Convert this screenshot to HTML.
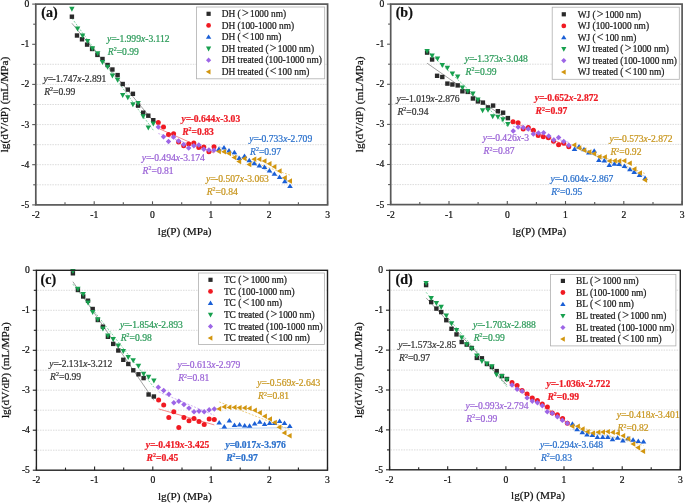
<!DOCTYPE html>
<html><head><meta charset="utf-8"><style>
html,body{margin:0;padding:0;background:#fff;overflow:hidden}
svg{display:block;font-family:"Liberation Serif",serif;will-change:transform}
</style></head><body>
<svg width="685" height="504" viewBox="0 0 685 504">
<rect width="685" height="504" fill="#fff"/>
<line x1="36.8" y1="64.3" x2="326.6" y2="64.3" stroke="#d2d2d2" stroke-width="0.8" stroke-dasharray="1.5,1.1"/>
<line x1="36.8" y1="84.4" x2="326.6" y2="84.4" stroke="#d2d2d2" stroke-width="0.8" stroke-dasharray="1.5,1.1"/>
<line x1="36.8" y1="104.5" x2="326.6" y2="104.5" stroke="#d2d2d2" stroke-width="0.8" stroke-dasharray="1.5,1.1"/>
<line x1="36.8" y1="124.6" x2="326.6" y2="124.6" stroke="#d2d2d2" stroke-width="0.8" stroke-dasharray="1.5,1.1"/>
<line x1="36.8" y1="144.7" x2="326.6" y2="144.7" stroke="#d2d2d2" stroke-width="0.8" stroke-dasharray="1.5,1.1"/>
<line x1="36.8" y1="164.7" x2="326.6" y2="164.7" stroke="#d2d2d2" stroke-width="0.8" stroke-dasharray="1.5,1.1"/>
<line x1="36.8" y1="184.8" x2="326.6" y2="184.8" stroke="#d2d2d2" stroke-width="0.8" stroke-dasharray="1.5,1.1"/>
<line x1="71.9" y1="23.3" x2="153.3" y2="121.1" stroke="#8a8a8a" stroke-width="0.8"/>
<line x1="71.9" y1="18.2" x2="153.3" y2="130.2" stroke="#5cc88a" stroke-width="0.8" stroke-dasharray="2,1.5"/>
<line x1="158.3" y1="128.3" x2="214.0" y2="153.0" stroke="#f47070" stroke-width="0.8"/>
<line x1="158.3" y1="133.5" x2="214.0" y2="152.5" stroke="#c4a0f0" stroke-width="0.8" stroke-dasharray="2,1.5"/>
<line x1="218.9" y1="146.4" x2="290.0" y2="182.2" stroke="#a8c8f0" stroke-width="0.8"/>
<line x1="218.9" y1="150.3" x2="290.0" y2="175.1" stroke="#e8c060" stroke-width="0.8" stroke-dasharray="2,1.5"/>
<rect x="69.7" y="14.5" width="4.4" height="4.4" fill="#2a2a2a"/>
<rect x="74.8" y="33.3" width="4.4" height="4.4" fill="#2a2a2a"/>
<rect x="79.8" y="37.1" width="4.4" height="4.4" fill="#2a2a2a"/>
<rect x="84.9" y="42.4" width="4.4" height="4.4" fill="#2a2a2a"/>
<rect x="89.9" y="46.8" width="4.4" height="4.4" fill="#2a2a2a"/>
<rect x="95.2" y="52.7" width="4.4" height="4.4" fill="#2a2a2a"/>
<rect x="100.3" y="56.8" width="4.4" height="4.4" fill="#2a2a2a"/>
<rect x="105.4" y="62.8" width="4.4" height="4.4" fill="#2a2a2a"/>
<rect x="110.2" y="67.3" width="4.4" height="4.4" fill="#2a2a2a"/>
<rect x="115.4" y="72.9" width="4.4" height="4.4" fill="#2a2a2a"/>
<rect x="120.5" y="81.8" width="4.4" height="4.4" fill="#2a2a2a"/>
<rect x="125.6" y="87.4" width="4.4" height="4.4" fill="#2a2a2a"/>
<rect x="130.7" y="91.6" width="4.4" height="4.4" fill="#2a2a2a"/>
<rect x="135.9" y="103.4" width="4.4" height="4.4" fill="#2a2a2a"/>
<rect x="141.0" y="110.5" width="4.4" height="4.4" fill="#2a2a2a"/>
<rect x="146.1" y="113.5" width="4.4" height="4.4" fill="#2a2a2a"/>
<rect x="151.1" y="118.0" width="4.4" height="4.4" fill="#2a2a2a"/>
<circle cx="158.3" cy="122.5" r="2.50" fill="#f01a22"/>
<circle cx="163.5" cy="126.9" r="2.50" fill="#f01a22"/>
<circle cx="168.5" cy="134.6" r="2.50" fill="#f01a22"/>
<circle cx="173.6" cy="133.8" r="2.50" fill="#f01a22"/>
<circle cx="178.6" cy="142.1" r="2.50" fill="#f01a22"/>
<circle cx="183.7" cy="145.7" r="2.50" fill="#f01a22"/>
<circle cx="188.7" cy="143.9" r="2.50" fill="#f01a22"/>
<circle cx="193.8" cy="143.1" r="2.50" fill="#f01a22"/>
<circle cx="198.8" cy="147.5" r="2.50" fill="#f01a22"/>
<circle cx="203.8" cy="146.9" r="2.50" fill="#f01a22"/>
<circle cx="208.9" cy="151.7" r="2.50" fill="#f01a22"/>
<circle cx="214.0" cy="146.7" r="2.50" fill="#f01a22"/>
<path d="M218.9,146.4L221.7,150.9L216.1,150.9Z" fill="#1a5fd6"/>
<path d="M224.0,145.0L226.8,149.5L221.2,149.5Z" fill="#1a5fd6"/>
<path d="M229.0,147.9L231.8,152.4L226.2,152.4Z" fill="#1a5fd6"/>
<path d="M234.4,149.8L237.2,154.3L231.6,154.3Z" fill="#1a5fd6"/>
<path d="M239.2,155.4L242.0,159.9L236.4,159.9Z" fill="#1a5fd6"/>
<path d="M244.5,153.6L247.3,158.1L241.7,158.1Z" fill="#1a5fd6"/>
<path d="M249.3,157.8L252.1,162.3L246.5,162.3Z" fill="#1a5fd6"/>
<path d="M254.3,160.7L257.1,165.2L251.5,165.2Z" fill="#1a5fd6"/>
<path d="M259.4,163.1L262.2,167.6L256.6,167.6Z" fill="#1a5fd6"/>
<path d="M264.5,164.4L267.3,168.9L261.7,168.9Z" fill="#1a5fd6"/>
<path d="M269.5,167.9L272.3,172.4L266.7,172.4Z" fill="#1a5fd6"/>
<path d="M274.4,171.3L277.2,175.8L271.6,175.8Z" fill="#1a5fd6"/>
<path d="M279.6,174.5L282.4,179.0L276.8,179.0Z" fill="#1a5fd6"/>
<path d="M284.8,178.7L287.6,183.2L282.0,183.2Z" fill="#1a5fd6"/>
<path d="M290.0,183.6L292.8,188.1L287.2,188.1Z" fill="#1a5fd6"/>
<path d="M71.9,11.8L74.6,6.8L69.2,6.8Z" fill="#17a04e"/>
<path d="M77.6,31.5L80.3,26.5L74.9,26.5Z" fill="#17a04e"/>
<path d="M82.6,38.6L85.3,33.6L79.9,33.6Z" fill="#17a04e"/>
<path d="M87.6,43.9L90.3,38.9L84.9,38.9Z" fill="#17a04e"/>
<path d="M92.4,51.2L95.1,46.2L89.7,46.2Z" fill="#17a04e"/>
<path d="M97.7,56.2L100.4,51.2L95.0,51.2Z" fill="#17a04e"/>
<path d="M102.5,64.9L105.2,59.9L99.8,59.9Z" fill="#17a04e"/>
<path d="M107.6,69.7L110.3,64.7L104.9,64.7Z" fill="#17a04e"/>
<path d="M112.4,78.6L115.1,73.6L109.7,73.6Z" fill="#17a04e"/>
<path d="M117.6,82.8L120.3,77.8L114.9,77.8Z" fill="#17a04e"/>
<path d="M122.7,97.9L125.4,92.9L120.0,92.9Z" fill="#17a04e"/>
<path d="M127.8,100.2L130.5,95.2L125.1,95.2Z" fill="#17a04e"/>
<path d="M132.9,107.3L135.6,102.3L130.2,102.3Z" fill="#17a04e"/>
<path d="M138.1,106.1L140.8,101.1L135.4,101.1Z" fill="#17a04e"/>
<path d="M143.2,119.2L145.9,114.2L140.5,114.2Z" fill="#17a04e"/>
<path d="M148.3,130.5L151.0,125.5L145.6,125.5Z" fill="#17a04e"/>
<path d="M153.3,126.4L156.0,121.4L150.6,121.4Z" fill="#17a04e"/>
<path d="M158.3,124.2L161.1,126.9L158.3,129.7L155.6,126.9Z" fill="#9d66e6"/>
<path d="M163.5,134.1L166.2,136.8L163.5,139.6L160.8,136.8Z" fill="#9d66e6"/>
<path d="M168.5,138.8L171.2,141.5L168.5,144.2L165.8,141.5Z" fill="#9d66e6"/>
<path d="M173.6,134.3L176.3,137.1L173.6,139.8L170.8,137.1Z" fill="#9d66e6"/>
<path d="M178.6,138.2L181.3,141.0L178.6,143.8L175.8,141.0Z" fill="#9d66e6"/>
<path d="M183.7,141.8L186.4,144.5L183.7,147.2L180.9,144.5Z" fill="#9d66e6"/>
<path d="M188.7,145.3L191.4,148.1L188.7,150.8L185.9,148.1Z" fill="#9d66e6"/>
<path d="M193.8,142.9L196.6,145.7L193.8,148.4L191.1,145.7Z" fill="#9d66e6"/>
<path d="M198.8,142.3L201.6,145.1L198.8,147.8L196.1,145.1Z" fill="#9d66e6"/>
<path d="M203.8,146.6L206.6,149.3L203.8,152.1L201.1,149.3Z" fill="#9d66e6"/>
<path d="M208.9,147.2L211.7,149.9L208.9,152.7L206.2,149.9Z" fill="#9d66e6"/>
<path d="M214.0,147.4L216.8,150.2L214.0,152.9L211.2,150.2Z" fill="#9d66e6"/>
<path d="M216.0,151.4L220.9,148.7L220.9,154.2Z" fill="#d2960f"/>
<path d="M221.1,151.8L226.0,149.1L226.0,154.6Z" fill="#d2960f"/>
<path d="M226.1,153.6L231.0,150.8L231.0,156.3Z" fill="#d2960f"/>
<path d="M231.5,157.4L236.4,154.7L236.4,160.2Z" fill="#d2960f"/>
<path d="M236.3,161.5L241.2,158.8L241.2,164.2Z" fill="#d2960f"/>
<path d="M241.6,158.6L246.5,155.8L246.5,161.3Z" fill="#d2960f"/>
<path d="M246.4,164.5L251.3,161.8L251.3,167.2Z" fill="#d2960f"/>
<path d="M251.4,159.2L256.3,156.4L256.3,161.9Z" fill="#d2960f"/>
<path d="M256.5,159.2L261.4,156.4L261.4,161.9Z" fill="#d2960f"/>
<path d="M261.6,160.9L266.5,158.2L266.5,163.7Z" fill="#d2960f"/>
<path d="M266.6,163.7L271.5,160.9L271.5,166.4Z" fill="#d2960f"/>
<path d="M271.5,166.7L276.4,163.9L276.4,169.4Z" fill="#d2960f"/>
<path d="M276.7,171.1L281.6,168.3L281.6,173.8Z" fill="#d2960f"/>
<path d="M281.9,177.7L286.8,174.9L286.8,180.4Z" fill="#d2960f"/>
<path d="M287.1,181.1L292.0,178.3L292.0,183.8Z" fill="#d2960f"/>
<text x="107" y="41.699999999999996" fill="#2a9a58" stroke="#2a9a58" stroke-width="0.22" font-size="9.6"><tspan font-style="italic">y</tspan>=<tspan dx="-0.5">-1.999</tspan><tspan font-style="italic">x</tspan>-3.112</text><text x="107.8" y="54.7" fill="#2a9a58" stroke="#2a9a58" stroke-width="0.22" font-size="9.6"><tspan font-style="italic">R</tspan><tspan font-size="6" dy="-3.6">2</tspan><tspan dy="3.6">=0.99</tspan></text>
<text x="43.4" y="81.7" fill="#333333" stroke="#333333" stroke-width="0.22" font-size="9.6"><tspan font-style="italic">y</tspan>=<tspan dx="-0.5">-1.747</tspan><tspan font-style="italic">x</tspan>-2.891</text><text x="44.199999999999996" y="94.7" fill="#333333" stroke="#333333" stroke-width="0.22" font-size="9.6"><tspan font-style="italic">R</tspan><tspan font-size="6" dy="-3.6">2</tspan><tspan dy="3.6">=0.99</tspan></text>
<text x="181.4" y="122.0" fill="#ee1c25" stroke="#ee1c25" stroke-width="0.22" font-size="9.6" font-weight="bold"><tspan font-style="italic">y</tspan>=<tspan dx="-0.5">-0.644</tspan><tspan font-style="italic">x</tspan>-3.03</text><text x="182.20000000000002" y="135.0" fill="#ee1c25" stroke="#ee1c25" stroke-width="0.22" font-size="9.6" font-weight="bold"><tspan font-style="italic">R</tspan><tspan font-size="6" dy="-3.6">2</tspan><tspan dy="3.6">=0.83</tspan></text>
<text x="249.2" y="141.8" fill="#2a70cc" stroke="#2a70cc" stroke-width="0.22" font-size="9.6"><tspan font-style="italic">y</tspan>=<tspan dx="-0.5">-0.733</tspan><tspan font-style="italic">x</tspan>-2.709</text><text x="250.0" y="154.8" fill="#2a70cc" stroke="#2a70cc" stroke-width="0.22" font-size="9.6"><tspan font-style="italic">R</tspan><tspan font-size="6" dy="-3.6">2</tspan><tspan dy="3.6">=0.97</tspan></text>
<text x="141.8" y="161.0" fill="#9a62d6" stroke="#9a62d6" stroke-width="0.22" font-size="9.6"><tspan font-style="italic">y</tspan>=<tspan dx="-0.5">-0.494</tspan><tspan font-style="italic">x</tspan>-3.174</text><text x="142.60000000000002" y="174.0" fill="#9a62d6" stroke="#9a62d6" stroke-width="0.22" font-size="9.6"><tspan font-style="italic">R</tspan><tspan font-size="6" dy="-3.6">2</tspan><tspan dy="3.6">=0.81</tspan></text>
<text x="205.9" y="181.70000000000002" fill="#c8961e" stroke="#c8961e" stroke-width="0.22" font-size="9.6"><tspan font-style="italic">y</tspan>=<tspan dx="-0.5">-0.507</tspan><tspan font-style="italic">x</tspan>-3.063</text><text x="206.70000000000002" y="194.7" fill="#c8961e" stroke="#c8961e" stroke-width="0.22" font-size="9.6"><tspan font-style="italic">R</tspan><tspan font-size="6" dy="-3.6">2</tspan><tspan dy="3.6">=0.84</tspan></text>
<rect x="196.5" y="7.0" width="128.2" height="71.8" fill="#fff" stroke="#b0b0b0" stroke-width="0.8"/>
<rect x="206.5" y="11.7" width="4.2" height="4.2" fill="#2a2a2a"/>
<text x="221.7" y="17.0" font-size="9.4" fill="#1a1a1a" stroke="#1a1a1a" stroke-width="0.22">DH (<tspan font-size="12" dx="1.2">&gt;</tspan><tspan dx="1.3">1000 nm)</tspan></text>
<circle cx="208.6" cy="25.4" r="2.38" fill="#f01a22"/>
<text x="221.7" y="28.6" font-size="9.4" fill="#1a1a1a" stroke="#1a1a1a" stroke-width="0.22">DH (100-1000 nm)</text>
<path d="M208.6,34.5L211.3,38.8L205.9,38.8Z" fill="#1a5fd6"/>
<text x="221.7" y="40.2" font-size="9.4" fill="#1a1a1a" stroke="#1a1a1a" stroke-width="0.22">DH (<tspan font-size="12" dx="1.2">&lt;</tspan><tspan dx="1.3">100 nm)</tspan></text>
<path d="M208.6,51.4L211.2,46.6L206.0,46.6Z" fill="#17a04e"/>
<text x="221.7" y="51.8" font-size="9.4" fill="#1a1a1a" stroke="#1a1a1a" stroke-width="0.22">DH treated (<tspan font-size="12" dx="1.2">&gt;</tspan><tspan dx="1.3">1000 nm)</tspan></text>
<path d="M208.6,57.6L211.2,60.2L208.6,62.8L206.0,60.2Z" fill="#9d66e6"/>
<text x="221.7" y="63.4" font-size="9.4" fill="#1a1a1a" stroke="#1a1a1a" stroke-width="0.22">DH treated (100-1000 nm)</text>
<path d="M205.8,71.8L210.5,69.2L210.5,74.4Z" fill="#d2960f"/>
<text x="221.7" y="75.0" font-size="9.4" fill="#1a1a1a" stroke="#1a1a1a" stroke-width="0.22">DH treated (<tspan font-size="12" dx="1.2">&lt;</tspan><tspan dx="1.3">100 nm)</tspan></text>
<rect x="35.8" y="4.1" width="291.8" height="200.8" fill="none" stroke="#585858" stroke-width="1.7"/>
<line x1="35.8" y1="204.9" x2="35.8" y2="201.3" stroke="#585858" stroke-width="1.1"/>
<line x1="35.8" y1="4.1" x2="32.199999999999996" y2="4.1" stroke="#585858" stroke-width="1.1"/>
<line x1="65.0" y1="204.9" x2="65.0" y2="202.3" stroke="#585858" stroke-width="1.1"/>
<line x1="35.8" y1="24.2" x2="33.199999999999996" y2="24.2" stroke="#585858" stroke-width="1.1"/>
<line x1="94.2" y1="204.9" x2="94.2" y2="201.3" stroke="#585858" stroke-width="1.1"/>
<line x1="35.8" y1="44.3" x2="32.199999999999996" y2="44.3" stroke="#585858" stroke-width="1.1"/>
<line x1="123.3" y1="204.9" x2="123.3" y2="202.3" stroke="#585858" stroke-width="1.1"/>
<line x1="35.8" y1="64.3" x2="33.199999999999996" y2="64.3" stroke="#585858" stroke-width="1.1"/>
<line x1="152.5" y1="204.9" x2="152.5" y2="201.3" stroke="#585858" stroke-width="1.1"/>
<line x1="35.8" y1="84.4" x2="32.199999999999996" y2="84.4" stroke="#585858" stroke-width="1.1"/>
<line x1="181.7" y1="204.9" x2="181.7" y2="202.3" stroke="#585858" stroke-width="1.1"/>
<line x1="35.8" y1="104.5" x2="33.199999999999996" y2="104.5" stroke="#585858" stroke-width="1.1"/>
<line x1="210.9" y1="204.9" x2="210.9" y2="201.3" stroke="#585858" stroke-width="1.1"/>
<line x1="35.8" y1="124.6" x2="32.199999999999996" y2="124.6" stroke="#585858" stroke-width="1.1"/>
<line x1="240.1" y1="204.9" x2="240.1" y2="202.3" stroke="#585858" stroke-width="1.1"/>
<line x1="35.8" y1="144.7" x2="33.199999999999996" y2="144.7" stroke="#585858" stroke-width="1.1"/>
<line x1="269.2" y1="204.9" x2="269.2" y2="201.3" stroke="#585858" stroke-width="1.1"/>
<line x1="35.8" y1="164.7" x2="32.199999999999996" y2="164.7" stroke="#585858" stroke-width="1.1"/>
<line x1="298.4" y1="204.9" x2="298.4" y2="202.3" stroke="#585858" stroke-width="1.1"/>
<line x1="35.8" y1="184.8" x2="33.199999999999996" y2="184.8" stroke="#585858" stroke-width="1.1"/>
<line x1="327.6" y1="204.9" x2="327.6" y2="201.3" stroke="#585858" stroke-width="1.1"/>
<line x1="35.8" y1="204.9" x2="32.199999999999996" y2="204.9" stroke="#585858" stroke-width="1.1"/>
<text x="35.8" y="217.9" font-size="9.6" text-anchor="middle" fill="#111" stroke="#111" stroke-width="0.22">-2</text>
<text x="29.3" y="7.0" font-size="9.6" text-anchor="end" fill="#111" stroke="#111" stroke-width="0.22">0</text>
<text x="94.2" y="217.9" font-size="9.6" text-anchor="middle" fill="#111" stroke="#111" stroke-width="0.22">-1</text>
<text x="29.3" y="47.2" font-size="9.6" text-anchor="end" fill="#111" stroke="#111" stroke-width="0.22">-1</text>
<text x="152.5" y="217.9" font-size="9.6" text-anchor="middle" fill="#111" stroke="#111" stroke-width="0.22">0</text>
<text x="29.3" y="87.3" font-size="9.6" text-anchor="end" fill="#111" stroke="#111" stroke-width="0.22">-2</text>
<text x="210.9" y="217.9" font-size="9.6" text-anchor="middle" fill="#111" stroke="#111" stroke-width="0.22">1</text>
<text x="29.3" y="127.5" font-size="9.6" text-anchor="end" fill="#111" stroke="#111" stroke-width="0.22">-3</text>
<text x="269.2" y="217.9" font-size="9.6" text-anchor="middle" fill="#111" stroke="#111" stroke-width="0.22">2</text>
<text x="29.3" y="167.6" font-size="9.6" text-anchor="end" fill="#111" stroke="#111" stroke-width="0.22">-4</text>
<text x="327.6" y="217.9" font-size="9.6" text-anchor="middle" fill="#111" stroke="#111" stroke-width="0.22">3</text>
<text x="29.3" y="207.8" font-size="9.6" text-anchor="end" fill="#111" stroke="#111" stroke-width="0.22">-5</text>
<text x="184.7" y="235.4" font-size="11.2" text-anchor="middle" fill="#111" stroke="#111" stroke-width="0.22">lg(P) (MPa)</text>
<text transform="translate(8.3,104.5) rotate(-90)" x="0" y="0" font-size="11.3" text-anchor="middle" fill="#111" stroke="#111" stroke-width="0.22">lg(dV/dP) (mL/MPa)</text>
<text x="41.3" y="16.9" font-size="14" font-weight="bold" fill="#111" stroke="#111" stroke-width="0.22">(a)</text>
<line x1="391.7" y1="64.2" x2="681.1" y2="64.2" stroke="#d2d2d2" stroke-width="0.8" stroke-dasharray="1.5,1.1"/>
<line x1="391.7" y1="84.3" x2="681.1" y2="84.3" stroke="#d2d2d2" stroke-width="0.8" stroke-dasharray="1.5,1.1"/>
<line x1="391.7" y1="104.3" x2="681.1" y2="104.3" stroke="#d2d2d2" stroke-width="0.8" stroke-dasharray="1.5,1.1"/>
<line x1="391.7" y1="124.4" x2="681.1" y2="124.4" stroke="#d2d2d2" stroke-width="0.8" stroke-dasharray="1.5,1.1"/>
<line x1="391.7" y1="144.4" x2="681.1" y2="144.4" stroke="#d2d2d2" stroke-width="0.8" stroke-dasharray="1.5,1.1"/>
<line x1="391.7" y1="164.5" x2="681.1" y2="164.5" stroke="#d2d2d2" stroke-width="0.8" stroke-dasharray="1.5,1.1"/>
<line x1="391.7" y1="184.6" x2="681.1" y2="184.6" stroke="#d2d2d2" stroke-width="0.8" stroke-dasharray="1.5,1.1"/>
<line x1="427.1" y1="63.2" x2="507.9" y2="119.9" stroke="#8a8a8a" stroke-width="0.8"/>
<line x1="427.1" y1="50.6" x2="507.9" y2="126.9" stroke="#5cc88a" stroke-width="0.8" stroke-dasharray="2,1.5"/>
<line x1="513.0" y1="121.8" x2="568.8" y2="146.9" stroke="#f47070" stroke-width="0.8"/>
<line x1="513.0" y1="126.1" x2="568.8" y2="142.4" stroke="#c4a0f0" stroke-width="0.8" stroke-dasharray="2,1.5"/>
<line x1="574.5" y1="147.0" x2="645.1" y2="176.4" stroke="#a8c8f0" stroke-width="0.8"/>
<line x1="574.5" y1="145.8" x2="645.1" y2="173.6" stroke="#e8c060" stroke-width="0.8" stroke-dasharray="2,1.5"/>
<rect x="424.9" y="50.4" width="4.4" height="4.4" fill="#2a2a2a"/>
<rect x="429.9" y="57.3" width="4.4" height="4.4" fill="#2a2a2a"/>
<rect x="434.9" y="73.6" width="4.4" height="4.4" fill="#2a2a2a"/>
<rect x="440.1" y="74.8" width="4.4" height="4.4" fill="#2a2a2a"/>
<rect x="445.2" y="81.4" width="4.4" height="4.4" fill="#2a2a2a"/>
<rect x="450.2" y="82.3" width="4.4" height="4.4" fill="#2a2a2a"/>
<rect x="455.5" y="83.2" width="4.4" height="4.4" fill="#2a2a2a"/>
<rect x="460.2" y="89.1" width="4.4" height="4.4" fill="#2a2a2a"/>
<rect x="465.5" y="89.7" width="4.4" height="4.4" fill="#2a2a2a"/>
<rect x="470.7" y="96.3" width="4.4" height="4.4" fill="#2a2a2a"/>
<rect x="475.7" y="99.2" width="4.4" height="4.4" fill="#2a2a2a"/>
<rect x="480.7" y="100.4" width="4.4" height="4.4" fill="#2a2a2a"/>
<rect x="485.8" y="105.2" width="4.4" height="4.4" fill="#2a2a2a"/>
<rect x="490.9" y="103.4" width="4.4" height="4.4" fill="#2a2a2a"/>
<rect x="495.7" y="109.0" width="4.4" height="4.4" fill="#2a2a2a"/>
<rect x="500.9" y="110.5" width="4.4" height="4.4" fill="#2a2a2a"/>
<rect x="505.7" y="115.9" width="4.4" height="4.4" fill="#2a2a2a"/>
<circle cx="513.0" cy="121.7" r="2.50" fill="#f01a22"/>
<circle cx="518.1" cy="122.8" r="2.50" fill="#f01a22"/>
<circle cx="523.2" cy="128.9" r="2.50" fill="#f01a22"/>
<circle cx="528.3" cy="127.4" r="2.50" fill="#f01a22"/>
<circle cx="533.4" cy="130.2" r="2.50" fill="#f01a22"/>
<circle cx="538.2" cy="135.5" r="2.50" fill="#f01a22"/>
<circle cx="543.3" cy="136.8" r="2.50" fill="#f01a22"/>
<circle cx="548.4" cy="137.8" r="2.50" fill="#f01a22"/>
<circle cx="553.5" cy="141.2" r="2.50" fill="#f01a22"/>
<circle cx="558.6" cy="144.7" r="2.50" fill="#f01a22"/>
<circle cx="563.7" cy="143.2" r="2.50" fill="#f01a22"/>
<circle cx="568.8" cy="146.8" r="2.50" fill="#f01a22"/>
<path d="M574.5,146.4L577.3,150.9L571.7,150.9Z" fill="#1a5fd6"/>
<path d="M579.0,144.1L581.8,148.6L576.2,148.6Z" fill="#1a5fd6"/>
<path d="M584.0,146.7L586.8,151.2L581.2,151.2Z" fill="#1a5fd6"/>
<path d="M588.8,150.0L591.6,154.5L586.0,154.5Z" fill="#1a5fd6"/>
<path d="M594.2,148.2L597.0,152.7L591.4,152.7Z" fill="#1a5fd6"/>
<path d="M598.9,157.4L601.7,161.9L596.1,161.9Z" fill="#1a5fd6"/>
<path d="M604.3,158.1L607.1,162.6L601.5,162.6Z" fill="#1a5fd6"/>
<path d="M609.3,162.5L612.1,167.0L606.5,167.0Z" fill="#1a5fd6"/>
<path d="M614.4,161.3L617.2,165.8L611.6,165.8Z" fill="#1a5fd6"/>
<path d="M619.2,161.5L622.0,166.0L616.4,166.0Z" fill="#1a5fd6"/>
<path d="M624.5,163.4L627.3,167.9L621.7,167.9Z" fill="#1a5fd6"/>
<path d="M629.9,166.7L632.7,171.2L627.1,171.2Z" fill="#1a5fd6"/>
<path d="M634.2,169.5L637.0,174.0L631.4,174.0Z" fill="#1a5fd6"/>
<path d="M639.5,172.4L642.3,176.9L636.7,176.9Z" fill="#1a5fd6"/>
<path d="M645.1,175.5L647.9,180.0L642.3,180.0Z" fill="#1a5fd6"/>
<path d="M427.1,54.1L429.8,49.1L424.4,49.1Z" fill="#17a04e"/>
<path d="M432.1,58.5L434.8,53.5L429.4,53.5Z" fill="#17a04e"/>
<path d="M437.5,61.5L440.2,56.5L434.8,56.5Z" fill="#17a04e"/>
<path d="M442.3,68.0L445.0,63.0L439.6,63.0Z" fill="#17a04e"/>
<path d="M447.4,70.8L450.1,65.8L444.7,65.8Z" fill="#17a04e"/>
<path d="M452.4,76.4L455.1,71.4L449.7,71.4Z" fill="#17a04e"/>
<path d="M457.7,79.6L460.4,74.6L455.0,74.6Z" fill="#17a04e"/>
<path d="M462.4,90.6L465.1,85.6L459.7,85.6Z" fill="#17a04e"/>
<path d="M467.7,93.9L470.4,88.9L465.0,88.9Z" fill="#17a04e"/>
<path d="M472.9,96.6L475.6,91.6L470.2,91.6Z" fill="#17a04e"/>
<path d="M477.9,102.5L480.6,97.5L475.2,97.5Z" fill="#17a04e"/>
<path d="M482.6,113.3L485.3,108.3L479.9,108.3Z" fill="#17a04e"/>
<path d="M488.0,112.7L490.7,107.7L485.3,107.7Z" fill="#17a04e"/>
<path d="M492.7,119.2L495.4,114.2L490.0,114.2Z" fill="#17a04e"/>
<path d="M497.9,119.8L500.6,114.8L495.2,114.8Z" fill="#17a04e"/>
<path d="M502.9,122.2L505.6,117.2L500.2,117.2Z" fill="#17a04e"/>
<path d="M507.9,126.9L510.6,121.9L505.2,121.9Z" fill="#17a04e"/>
<path d="M513.2,128.2L516.0,130.9L513.2,133.7L510.5,130.9Z" fill="#9d66e6"/>
<path d="M518.1,124.2L520.9,126.9L518.1,129.7L515.4,126.9Z" fill="#9d66e6"/>
<path d="M523.2,124.7L526.0,127.4L523.2,130.2L520.5,127.4Z" fill="#9d66e6"/>
<path d="M528.3,126.2L531.0,128.9L528.3,131.7L525.5,128.9Z" fill="#9d66e6"/>
<path d="M533.4,131.2L536.1,134.0L533.4,136.8L530.6,134.0Z" fill="#9d66e6"/>
<path d="M538.5,130.2L541.2,133.0L538.5,135.8L535.8,133.0Z" fill="#9d66e6"/>
<path d="M543.6,129.9L546.4,132.7L543.6,135.4L540.9,132.7Z" fill="#9d66e6"/>
<path d="M548.7,133.2L551.5,136.0L548.7,138.8L546.0,136.0Z" fill="#9d66e6"/>
<path d="M553.8,137.3L556.5,140.1L553.8,142.8L551.0,140.1Z" fill="#9d66e6"/>
<path d="M558.6,134.8L561.4,137.6L558.6,140.3L555.9,137.6Z" fill="#9d66e6"/>
<path d="M563.7,138.8L566.5,141.5L563.7,144.2L561.0,141.5Z" fill="#9d66e6"/>
<path d="M568.8,142.4L571.5,145.2L568.8,147.9L566.0,145.2Z" fill="#9d66e6"/>
<path d="M571.4,144.9L576.3,142.2L576.3,147.7Z" fill="#d2960f"/>
<path d="M576.4,147.9L581.3,145.2L581.3,150.7Z" fill="#d2960f"/>
<path d="M581.4,150.2L586.3,147.4L586.3,152.9Z" fill="#d2960f"/>
<path d="M586.5,152.0L591.4,149.2L591.4,154.8Z" fill="#d2960f"/>
<path d="M591.3,153.8L596.2,151.1L596.2,156.6Z" fill="#d2960f"/>
<path d="M596.6,156.8L601.5,154.1L601.5,159.6Z" fill="#d2960f"/>
<path d="M602.0,157.1L606.9,154.3L606.9,159.8Z" fill="#d2960f"/>
<path d="M606.7,161.0L611.6,158.2L611.6,163.8Z" fill="#d2960f"/>
<path d="M611.9,160.7L616.8,157.9L616.8,163.4Z" fill="#d2960f"/>
<path d="M616.4,161.0L621.3,158.2L621.3,163.8Z" fill="#d2960f"/>
<path d="M621.5,160.7L626.4,157.9L626.4,163.4Z" fill="#d2960f"/>
<path d="M626.9,163.2L631.8,160.4L631.8,165.9Z" fill="#d2960f"/>
<path d="M631.6,169.1L636.5,166.3L636.5,171.8Z" fill="#d2960f"/>
<path d="M637.1,173.0L642.0,170.2L642.0,175.8Z" fill="#d2960f"/>
<path d="M642.2,180.1L647.1,177.3L647.1,182.8Z" fill="#d2960f"/>
<text x="464.8" y="61.9" fill="#2a9a58" stroke="#2a9a58" stroke-width="0.22" font-size="9.6"><tspan font-style="italic">y</tspan>=<tspan dx="-0.5">-1.373</tspan><tspan font-style="italic">x</tspan>-3.048</text><text x="465.6" y="74.9" fill="#2a9a58" stroke="#2a9a58" stroke-width="0.22" font-size="9.6"><tspan font-style="italic">R</tspan><tspan font-size="6" dy="-3.6">2</tspan><tspan dy="3.6">=0.99</tspan></text>
<text x="396.6" y="101.80000000000001" fill="#333333" stroke="#333333" stroke-width="0.22" font-size="9.6"><tspan font-style="italic">y</tspan>=<tspan dx="-0.5">-1.019</tspan><tspan font-style="italic">x</tspan>-2.876</text><text x="397.40000000000003" y="114.8" fill="#333333" stroke="#333333" stroke-width="0.22" font-size="9.6"><tspan font-style="italic">R</tspan><tspan font-size="6" dy="-3.6">2</tspan><tspan dy="3.6">=0.94</tspan></text>
<text x="534.8" y="101.30000000000001" fill="#ee1c25" stroke="#ee1c25" stroke-width="0.22" font-size="9.6" font-weight="bold"><tspan font-style="italic">y</tspan>=<tspan dx="-0.5">-0.652</tspan><tspan font-style="italic">x</tspan>-2.872</text><text x="535.5999999999999" y="114.3" fill="#ee1c25" stroke="#ee1c25" stroke-width="0.22" font-size="9.6" font-weight="bold"><tspan font-style="italic">R</tspan><tspan font-size="6" dy="-3.6">2</tspan><tspan dy="3.6">=0.97</tspan></text>
<text x="482.8" y="141.3" fill="#9a62d6" stroke="#9a62d6" stroke-width="0.22" font-size="9.6"><tspan font-style="italic">y</tspan>=<tspan dx="-0.5">-0.426</tspan><tspan font-style="italic">x</tspan>-3</text><text x="483.6" y="154.3" fill="#9a62d6" stroke="#9a62d6" stroke-width="0.22" font-size="9.6"><tspan font-style="italic">R</tspan><tspan font-size="6" dy="-3.6">2</tspan><tspan dy="3.6">=0.87</tspan></text>
<text x="609.6" y="142.20000000000002" fill="#c8961e" stroke="#c8961e" stroke-width="0.22" font-size="9.6"><tspan font-style="italic">y</tspan>=<tspan dx="-0.5">-0.573</tspan><tspan font-style="italic">x</tspan>-2.872</text><text x="610.4" y="155.2" fill="#c8961e" stroke="#c8961e" stroke-width="0.22" font-size="9.6"><tspan font-style="italic">R</tspan><tspan font-size="6" dy="-3.6">2</tspan><tspan dy="3.6">=0.92</tspan></text>
<text x="550.4" y="182.20000000000002" fill="#2a70cc" stroke="#2a70cc" stroke-width="0.22" font-size="9.6"><tspan font-style="italic">y</tspan>=<tspan dx="-0.5">-0.604</tspan><tspan font-style="italic">x</tspan>-2.867</text><text x="551.1999999999999" y="195.2" fill="#2a70cc" stroke="#2a70cc" stroke-width="0.22" font-size="9.6"><tspan font-style="italic">R</tspan><tspan font-size="6" dy="-3.6">2</tspan><tspan dy="3.6">=0.95</tspan></text>
<rect x="552.2" y="7.2" width="127.1" height="72.1" fill="#fff" stroke="#b0b0b0" stroke-width="0.8"/>
<rect x="561.7" y="12.2" width="4.2" height="4.2" fill="#2a2a2a"/>
<text x="577.7" y="17.5" font-size="9.4" fill="#1a1a1a" stroke="#1a1a1a" stroke-width="0.22">WJ (<tspan font-size="12" dx="1.2">&gt;</tspan><tspan dx="1.3">1000 nm)</tspan></text>
<circle cx="563.8" cy="25.9" r="2.38" fill="#f01a22"/>
<text x="577.7" y="29.1" font-size="9.4" fill="#1a1a1a" stroke="#1a1a1a" stroke-width="0.22">WJ (100-1000 nm)</text>
<path d="M563.8,35.0L566.5,39.2L561.1,39.2Z" fill="#1a5fd6"/>
<text x="577.7" y="40.6" font-size="9.4" fill="#1a1a1a" stroke="#1a1a1a" stroke-width="0.22">WJ (<tspan font-size="12" dx="1.2">&lt;</tspan><tspan dx="1.3">100 nm)</tspan></text>
<path d="M563.8,51.7L566.4,47.0L561.2,47.0Z" fill="#17a04e"/>
<text x="577.7" y="52.2" font-size="9.4" fill="#1a1a1a" stroke="#1a1a1a" stroke-width="0.22">WJ treated (<tspan font-size="12" dx="1.2">&gt;</tspan><tspan dx="1.3">1000 nm)</tspan></text>
<path d="M563.8,57.9L566.4,60.5L563.8,63.2L561.2,60.5Z" fill="#9d66e6"/>
<text x="577.7" y="63.7" font-size="9.4" fill="#1a1a1a" stroke="#1a1a1a" stroke-width="0.22">WJ treated (100-1000 nm)</text>
<path d="M561.0,72.1L565.7,69.5L565.7,74.7Z" fill="#d2960f"/>
<text x="577.7" y="75.3" font-size="9.4" fill="#1a1a1a" stroke="#1a1a1a" stroke-width="0.22">WJ treated (<tspan font-size="12" dx="1.2">&lt;</tspan><tspan dx="1.3">100 nm)</tspan></text>
<rect x="390.7" y="4.1" width="291.4" height="200.5" fill="none" stroke="#585858" stroke-width="1.7"/>
<line x1="390.7" y1="204.6" x2="390.7" y2="201.0" stroke="#585858" stroke-width="1.1"/>
<line x1="390.7" y1="4.1" x2="387.09999999999997" y2="4.1" stroke="#585858" stroke-width="1.1"/>
<line x1="419.8" y1="204.6" x2="419.8" y2="202.0" stroke="#585858" stroke-width="1.1"/>
<line x1="390.7" y1="24.1" x2="388.09999999999997" y2="24.1" stroke="#585858" stroke-width="1.1"/>
<line x1="449.0" y1="204.6" x2="449.0" y2="201.0" stroke="#585858" stroke-width="1.1"/>
<line x1="390.7" y1="44.2" x2="387.09999999999997" y2="44.2" stroke="#585858" stroke-width="1.1"/>
<line x1="478.1" y1="204.6" x2="478.1" y2="202.0" stroke="#585858" stroke-width="1.1"/>
<line x1="390.7" y1="64.2" x2="388.09999999999997" y2="64.2" stroke="#585858" stroke-width="1.1"/>
<line x1="507.3" y1="204.6" x2="507.3" y2="201.0" stroke="#585858" stroke-width="1.1"/>
<line x1="390.7" y1="84.3" x2="387.09999999999997" y2="84.3" stroke="#585858" stroke-width="1.1"/>
<line x1="536.4" y1="204.6" x2="536.4" y2="202.0" stroke="#585858" stroke-width="1.1"/>
<line x1="390.7" y1="104.3" x2="388.09999999999997" y2="104.3" stroke="#585858" stroke-width="1.1"/>
<line x1="565.5" y1="204.6" x2="565.5" y2="201.0" stroke="#585858" stroke-width="1.1"/>
<line x1="390.7" y1="124.4" x2="387.09999999999997" y2="124.4" stroke="#585858" stroke-width="1.1"/>
<line x1="594.7" y1="204.6" x2="594.7" y2="202.0" stroke="#585858" stroke-width="1.1"/>
<line x1="390.7" y1="144.4" x2="388.09999999999997" y2="144.4" stroke="#585858" stroke-width="1.1"/>
<line x1="623.8" y1="204.6" x2="623.8" y2="201.0" stroke="#585858" stroke-width="1.1"/>
<line x1="390.7" y1="164.5" x2="387.09999999999997" y2="164.5" stroke="#585858" stroke-width="1.1"/>
<line x1="653.0" y1="204.6" x2="653.0" y2="202.0" stroke="#585858" stroke-width="1.1"/>
<line x1="390.7" y1="184.6" x2="388.09999999999997" y2="184.6" stroke="#585858" stroke-width="1.1"/>
<line x1="682.1" y1="204.6" x2="682.1" y2="201.0" stroke="#585858" stroke-width="1.1"/>
<line x1="390.7" y1="204.6" x2="387.09999999999997" y2="204.6" stroke="#585858" stroke-width="1.1"/>
<text x="390.7" y="217.6" font-size="9.6" text-anchor="middle" fill="#111" stroke="#111" stroke-width="0.22">-2</text>
<text x="384.2" y="7.0" font-size="9.6" text-anchor="end" fill="#111" stroke="#111" stroke-width="0.22">0</text>
<text x="449.0" y="217.6" font-size="9.6" text-anchor="middle" fill="#111" stroke="#111" stroke-width="0.22">-1</text>
<text x="384.2" y="47.1" font-size="9.6" text-anchor="end" fill="#111" stroke="#111" stroke-width="0.22">-1</text>
<text x="507.3" y="217.6" font-size="9.6" text-anchor="middle" fill="#111" stroke="#111" stroke-width="0.22">0</text>
<text x="384.2" y="87.2" font-size="9.6" text-anchor="end" fill="#111" stroke="#111" stroke-width="0.22">-2</text>
<text x="565.5" y="217.6" font-size="9.6" text-anchor="middle" fill="#111" stroke="#111" stroke-width="0.22">1</text>
<text x="384.2" y="127.3" font-size="9.6" text-anchor="end" fill="#111" stroke="#111" stroke-width="0.22">-3</text>
<text x="623.8" y="217.6" font-size="9.6" text-anchor="middle" fill="#111" stroke="#111" stroke-width="0.22">2</text>
<text x="384.2" y="167.4" font-size="9.6" text-anchor="end" fill="#111" stroke="#111" stroke-width="0.22">-4</text>
<text x="682.1" y="217.6" font-size="9.6" text-anchor="middle" fill="#111" stroke="#111" stroke-width="0.22">3</text>
<text x="384.2" y="207.5" font-size="9.6" text-anchor="end" fill="#111" stroke="#111" stroke-width="0.22">-5</text>
<text x="539.4" y="235.1" font-size="11.2" text-anchor="middle" fill="#111" stroke="#111" stroke-width="0.22">lg(P) (MPa)</text>
<text transform="translate(363.2,104.3) rotate(-90)" x="0" y="0" font-size="11.3" text-anchor="middle" fill="#111" stroke="#111" stroke-width="0.22">lg(dV/dP) (mL/MPa)</text>
<text x="395.7" y="17.4" font-size="14" font-weight="bold" fill="#111" stroke="#111" stroke-width="0.22">(b)</text>
<line x1="37.4" y1="290.3" x2="326.5" y2="290.3" stroke="#d2d2d2" stroke-width="0.8" stroke-dasharray="1.5,1.1"/>
<line x1="37.4" y1="310.3" x2="326.5" y2="310.3" stroke="#d2d2d2" stroke-width="0.8" stroke-dasharray="1.5,1.1"/>
<line x1="37.4" y1="330.3" x2="326.5" y2="330.3" stroke="#d2d2d2" stroke-width="0.8" stroke-dasharray="1.5,1.1"/>
<line x1="37.4" y1="350.3" x2="326.5" y2="350.3" stroke="#d2d2d2" stroke-width="0.8" stroke-dasharray="1.5,1.1"/>
<line x1="37.4" y1="370.2" x2="326.5" y2="370.2" stroke="#d2d2d2" stroke-width="0.8" stroke-dasharray="1.5,1.1"/>
<line x1="37.4" y1="390.2" x2="326.5" y2="390.2" stroke="#d2d2d2" stroke-width="0.8" stroke-dasharray="1.5,1.1"/>
<line x1="37.4" y1="410.2" x2="326.5" y2="410.2" stroke="#d2d2d2" stroke-width="0.8" stroke-dasharray="1.5,1.1"/>
<line x1="37.4" y1="430.2" x2="326.5" y2="430.2" stroke="#d2d2d2" stroke-width="0.8" stroke-dasharray="1.5,1.1"/>
<line x1="37.4" y1="450.2" x2="326.5" y2="450.2" stroke="#d2d2d2" stroke-width="0.8" stroke-dasharray="1.5,1.1"/>
<line x1="72.9" y1="281.7" x2="153.9" y2="400.3" stroke="#8a8a8a" stroke-width="0.8"/>
<line x1="72.9" y1="284.2" x2="153.9" y2="387.3" stroke="#5cc88a" stroke-width="0.8" stroke-dasharray="2,1.5"/>
<line x1="158.6" y1="408.9" x2="214.3" y2="424.9" stroke="#f47070" stroke-width="0.8"/>
<line x1="158.6" y1="391.8" x2="214.3" y2="415.3" stroke="#c4a0f0" stroke-width="0.8" stroke-dasharray="2,1.5"/>
<line x1="219.2" y1="428.5" x2="289.8" y2="427.7" stroke="#a8c8f0" stroke-width="0.8"/>
<line x1="219.2" y1="401.9" x2="289.8" y2="429.5" stroke="#e8c060" stroke-width="0.8" stroke-dasharray="2,1.5"/>
<rect x="70.7" y="271.1" width="4.4" height="4.4" fill="#2a2a2a"/>
<rect x="75.7" y="287.8" width="4.4" height="4.4" fill="#2a2a2a"/>
<rect x="81.0" y="294.3" width="4.4" height="4.4" fill="#2a2a2a"/>
<rect x="85.8" y="298.5" width="4.4" height="4.4" fill="#2a2a2a"/>
<rect x="90.5" y="306.8" width="4.4" height="4.4" fill="#2a2a2a"/>
<rect x="95.6" y="317.8" width="4.4" height="4.4" fill="#2a2a2a"/>
<rect x="100.7" y="324.5" width="4.4" height="4.4" fill="#2a2a2a"/>
<rect x="105.7" y="334.6" width="4.4" height="4.4" fill="#2a2a2a"/>
<rect x="111.0" y="341.7" width="4.4" height="4.4" fill="#2a2a2a"/>
<rect x="116.1" y="348.3" width="4.4" height="4.4" fill="#2a2a2a"/>
<rect x="121.1" y="357.6" width="4.4" height="4.4" fill="#2a2a2a"/>
<rect x="126.1" y="361.8" width="4.4" height="4.4" fill="#2a2a2a"/>
<rect x="131.1" y="368.1" width="4.4" height="4.4" fill="#2a2a2a"/>
<rect x="136.3" y="372.1" width="4.4" height="4.4" fill="#2a2a2a"/>
<rect x="141.4" y="375.9" width="4.4" height="4.4" fill="#2a2a2a"/>
<rect x="146.4" y="392.3" width="4.4" height="4.4" fill="#2a2a2a"/>
<rect x="151.7" y="394.3" width="4.4" height="4.4" fill="#2a2a2a"/>
<circle cx="158.6" cy="400.0" r="2.50" fill="#f01a22"/>
<circle cx="163.7" cy="404.9" r="2.50" fill="#f01a22"/>
<circle cx="168.8" cy="417.6" r="2.50" fill="#f01a22"/>
<circle cx="173.8" cy="411.8" r="2.50" fill="#f01a22"/>
<circle cx="178.8" cy="427.4" r="2.50" fill="#f01a22"/>
<circle cx="183.9" cy="417.4" r="2.50" fill="#f01a22"/>
<circle cx="189.0" cy="420.8" r="2.50" fill="#f01a22"/>
<circle cx="194.0" cy="418.4" r="2.50" fill="#f01a22"/>
<circle cx="199.0" cy="421.5" r="2.50" fill="#f01a22"/>
<circle cx="204.2" cy="424.5" r="2.50" fill="#f01a22"/>
<circle cx="209.2" cy="418.9" r="2.50" fill="#f01a22"/>
<circle cx="214.3" cy="419.5" r="2.50" fill="#f01a22"/>
<path d="M219.2,420.1L222.0,424.6L216.4,424.6Z" fill="#1a5fd6"/>
<path d="M224.3,424.0L227.1,428.5L221.5,428.5Z" fill="#1a5fd6"/>
<path d="M229.4,418.0L232.2,422.5L226.6,422.5Z" fill="#1a5fd6"/>
<path d="M234.5,422.6L237.3,427.1L231.7,427.1Z" fill="#1a5fd6"/>
<path d="M239.6,421.9L242.4,426.4L236.8,426.4Z" fill="#1a5fd6"/>
<path d="M244.7,422.9L247.5,427.4L241.9,427.4Z" fill="#1a5fd6"/>
<path d="M249.6,423.2L252.4,427.7L246.8,427.7Z" fill="#1a5fd6"/>
<path d="M254.7,420.9L257.5,425.4L251.9,425.4Z" fill="#1a5fd6"/>
<path d="M259.8,419.3L262.6,423.8L257.0,423.8Z" fill="#1a5fd6"/>
<path d="M264.6,421.4L267.4,425.9L261.8,425.9Z" fill="#1a5fd6"/>
<path d="M269.7,420.4L272.5,424.9L266.9,424.9Z" fill="#1a5fd6"/>
<path d="M274.6,420.6L277.4,425.1L271.8,425.1Z" fill="#1a5fd6"/>
<path d="M279.6,418.4L282.4,422.9L276.8,422.9Z" fill="#1a5fd6"/>
<path d="M284.5,420.6L287.3,425.1L281.7,425.1Z" fill="#1a5fd6"/>
<path d="M289.8,423.4L292.6,427.9L287.0,427.9Z" fill="#1a5fd6"/>
<path d="M72.9,273.9L75.6,268.9L70.2,268.9Z" fill="#17a04e"/>
<path d="M77.9,291.7L80.6,286.7L75.2,286.7Z" fill="#17a04e"/>
<path d="M83.2,297.1L85.9,292.1L80.5,292.1Z" fill="#17a04e"/>
<path d="M88.0,305.4L90.7,300.4L85.3,300.4Z" fill="#17a04e"/>
<path d="M92.7,315.1L95.4,310.1L90.0,310.1Z" fill="#17a04e"/>
<path d="M97.8,322.3L100.5,317.3L95.1,317.3Z" fill="#17a04e"/>
<path d="M102.9,331.4L105.6,326.4L100.2,326.4Z" fill="#17a04e"/>
<path d="M107.9,338.5L110.6,333.5L105.2,333.5Z" fill="#17a04e"/>
<path d="M113.2,342.1L115.9,337.1L110.5,337.1Z" fill="#17a04e"/>
<path d="M118.3,348.6L121.0,343.6L115.6,343.6Z" fill="#17a04e"/>
<path d="M123.3,354.1L126.0,349.1L120.6,349.1Z" fill="#17a04e"/>
<path d="M128.2,360.1L130.9,355.1L125.5,355.1Z" fill="#17a04e"/>
<path d="M133.2,363.3L135.9,358.3L130.5,358.3Z" fill="#17a04e"/>
<path d="M138.5,368.7L141.2,363.7L135.8,363.7Z" fill="#17a04e"/>
<path d="M143.6,376.8L146.3,371.8L140.9,371.8Z" fill="#17a04e"/>
<path d="M148.6,379.8L151.3,374.8L145.9,374.8Z" fill="#17a04e"/>
<path d="M153.9,383.4L156.6,378.4L151.2,378.4Z" fill="#17a04e"/>
<path d="M158.3,384.4L161.1,387.2L158.3,389.9L155.6,387.2Z" fill="#9d66e6"/>
<path d="M163.7,387.8L166.4,390.5L163.7,393.2L160.9,390.5Z" fill="#9d66e6"/>
<path d="M168.8,391.6L171.6,394.3L168.8,397.1L166.1,394.3Z" fill="#9d66e6"/>
<path d="M173.8,399.9L176.6,402.7L173.8,405.4L171.1,402.7Z" fill="#9d66e6"/>
<path d="M178.8,398.4L181.6,401.2L178.8,403.9L176.1,401.2Z" fill="#9d66e6"/>
<path d="M183.9,401.8L186.7,404.5L183.9,407.2L181.2,404.5Z" fill="#9d66e6"/>
<path d="M189.0,405.4L191.8,408.1L189.0,410.9L186.2,408.1Z" fill="#9d66e6"/>
<path d="M194.0,408.9L196.8,411.7L194.0,414.4L191.2,411.7Z" fill="#9d66e6"/>
<path d="M199.0,408.4L201.8,411.1L199.0,413.9L196.2,411.1Z" fill="#9d66e6"/>
<path d="M204.2,408.9L206.9,411.7L204.2,414.4L201.4,411.7Z" fill="#9d66e6"/>
<path d="M209.2,407.1L211.9,409.9L209.2,412.6L206.4,409.9Z" fill="#9d66e6"/>
<path d="M214.3,406.2L217.1,409.0L214.3,411.8L211.6,409.0Z" fill="#9d66e6"/>
<path d="M216.3,408.9L221.2,406.1L221.2,411.6Z" fill="#d2960f"/>
<path d="M221.4,406.9L226.3,404.1L226.3,409.6Z" fill="#d2960f"/>
<path d="M226.5,407.4L231.4,404.6L231.4,410.1Z" fill="#d2960f"/>
<path d="M231.6,407.4L236.5,404.6L236.5,410.1Z" fill="#d2960f"/>
<path d="M236.7,407.6L241.6,404.9L241.6,410.4Z" fill="#d2960f"/>
<path d="M241.8,407.9L246.7,405.1L246.7,410.6Z" fill="#d2960f"/>
<path d="M246.7,408.4L251.6,405.6L251.6,411.1Z" fill="#d2960f"/>
<path d="M252.0,410.4L256.9,407.6L256.9,413.1Z" fill="#d2960f"/>
<path d="M256.9,412.7L261.8,409.9L261.8,415.4Z" fill="#d2960f"/>
<path d="M262.0,416.2L266.9,413.4L266.9,418.9Z" fill="#d2960f"/>
<path d="M267.1,419.0L272.0,416.2L272.0,421.8Z" fill="#d2960f"/>
<path d="M271.9,422.5L276.8,419.8L276.8,425.2Z" fill="#d2960f"/>
<path d="M276.5,427.3L281.4,424.6L281.4,430.1Z" fill="#d2960f"/>
<path d="M281.6,432.9L286.5,430.1L286.5,435.6Z" fill="#d2960f"/>
<path d="M286.7,435.8L291.6,433.1L291.6,438.6Z" fill="#d2960f"/>
<text x="119.9" y="327.5" fill="#2a9a58" stroke="#2a9a58" stroke-width="0.22" font-size="9.6"><tspan font-style="italic">y</tspan>=<tspan dx="-0.5">-1.854</tspan><tspan font-style="italic">x</tspan>-2.893</text><text x="120.7" y="340.5" fill="#2a9a58" stroke="#2a9a58" stroke-width="0.22" font-size="9.6"><tspan font-style="italic">R</tspan><tspan font-size="6" dy="-3.6">2</tspan><tspan dy="3.6">=0.98</tspan></text>
<text x="49.3" y="367.0" fill="#333333" stroke="#333333" stroke-width="0.22" font-size="9.6"><tspan font-style="italic">y</tspan>=<tspan dx="-0.5">-2.131</tspan><tspan font-style="italic">x</tspan>-3.212</text><text x="50.099999999999994" y="380.0" fill="#333333" stroke="#333333" stroke-width="0.22" font-size="9.6"><tspan font-style="italic">R</tspan><tspan font-size="6" dy="-3.6">2</tspan><tspan dy="3.6">=0.99</tspan></text>
<text x="177.4" y="368.29999999999995" fill="#9a62d6" stroke="#9a62d6" stroke-width="0.22" font-size="9.6"><tspan font-style="italic">y</tspan>=<tspan dx="-0.5">-0.613</tspan><tspan font-style="italic">x</tspan>-2.979</text><text x="178.20000000000002" y="381.3" fill="#9a62d6" stroke="#9a62d6" stroke-width="0.22" font-size="9.6"><tspan font-style="italic">R</tspan><tspan font-size="6" dy="-3.6">2</tspan><tspan dy="3.6">=0.81</tspan></text>
<text x="257.3" y="386.4" fill="#c8961e" stroke="#c8961e" stroke-width="0.22" font-size="9.6"><tspan font-style="italic">y</tspan>=<tspan dx="-0.5">-0.569</tspan><tspan font-style="italic">x</tspan>-2.643</text><text x="258.1" y="399.4" fill="#c8961e" stroke="#c8961e" stroke-width="0.22" font-size="9.6"><tspan font-style="italic">R</tspan><tspan font-size="6" dy="-3.6">2</tspan><tspan dy="3.6">=0.81</tspan></text>
<text x="145.8" y="447.5" fill="#ee1c25" stroke="#ee1c25" stroke-width="0.22" font-size="9.6" font-weight="bold"><tspan font-style="italic">y</tspan>=<tspan dx="-0.5">-0.419</tspan><tspan font-style="italic">x</tspan>-3.425</text><text x="146.60000000000002" y="460.5" fill="#ee1c25" stroke="#ee1c25" stroke-width="0.22" font-size="9.6" font-weight="bold"><tspan font-style="italic">R</tspan><tspan font-size="6" dy="-3.6">2</tspan><tspan dy="3.6">=0.45</tspan></text>
<text x="225.4" y="447.5" fill="#2a70cc" stroke="#2a70cc" stroke-width="0.22" font-size="9.6" font-weight="bold"><tspan font-style="italic">y</tspan>=<tspan dx="-0.5">0.017</tspan><tspan font-style="italic">x</tspan>-3.976</text><text x="226.20000000000002" y="460.5" fill="#2a70cc" stroke="#2a70cc" stroke-width="0.22" font-size="9.6" font-weight="bold"><tspan font-style="italic">R</tspan><tspan font-size="6" dy="-3.6">2</tspan><tspan dy="3.6">=0.97</tspan></text>
<rect x="198.5" y="273.0" width="125.9" height="71.4" fill="#fff" stroke="#b0b0b0" stroke-width="0.8"/>
<rect x="208.4" y="277.7" width="4.2" height="4.2" fill="#2a2a2a"/>
<text x="223.9" y="283.0" font-size="9.4" fill="#1a1a1a" stroke="#1a1a1a" stroke-width="0.22">TC (<tspan font-size="12" dx="1.2">&gt;</tspan><tspan dx="1.3">1000 nm)</tspan></text>
<circle cx="210.5" cy="291.4" r="2.38" fill="#f01a22"/>
<text x="223.9" y="294.6" font-size="9.4" fill="#1a1a1a" stroke="#1a1a1a" stroke-width="0.22">TC (100-1000 nm)</text>
<path d="M210.5,300.6L213.2,304.9L207.8,304.9Z" fill="#1a5fd6"/>
<text x="223.9" y="306.3" font-size="9.4" fill="#1a1a1a" stroke="#1a1a1a" stroke-width="0.22">TC (<tspan font-size="12" dx="1.2">&lt;</tspan><tspan dx="1.3">100 nm)</tspan></text>
<path d="M210.5,317.5L213.1,312.8L207.9,312.8Z" fill="#17a04e"/>
<text x="223.9" y="317.9" font-size="9.4" fill="#1a1a1a" stroke="#1a1a1a" stroke-width="0.22">TC treated (<tspan font-size="12" dx="1.2">&gt;</tspan><tspan dx="1.3">1000 nm)</tspan></text>
<path d="M210.5,323.8L213.1,326.4L210.5,329.0L207.9,326.4Z" fill="#9d66e6"/>
<text x="223.9" y="329.6" font-size="9.4" fill="#1a1a1a" stroke="#1a1a1a" stroke-width="0.22">TC treated (100-1000 nm)</text>
<path d="M207.7,338.1L212.4,335.4L212.4,340.7Z" fill="#d2960f"/>
<text x="223.9" y="341.2" font-size="9.4" fill="#1a1a1a" stroke="#1a1a1a" stroke-width="0.22">TC treated (<tspan font-size="12" dx="1.2">&lt;</tspan><tspan dx="1.3">100 nm)</tspan></text>
<rect x="36.4" y="270.3" width="291.1" height="199.9" fill="none" stroke="#222222" stroke-width="1.4"/>
<line x1="36.4" y1="470.2" x2="36.4" y2="466.59999999999997" stroke="#222222" stroke-width="1.1"/>
<line x1="36.4" y1="270.3" x2="32.8" y2="270.3" stroke="#222222" stroke-width="1.1"/>
<line x1="65.5" y1="470.2" x2="65.5" y2="467.59999999999997" stroke="#222222" stroke-width="1.1"/>
<line x1="36.4" y1="290.3" x2="33.8" y2="290.3" stroke="#222222" stroke-width="1.1"/>
<line x1="94.6" y1="470.2" x2="94.6" y2="466.59999999999997" stroke="#222222" stroke-width="1.1"/>
<line x1="36.4" y1="310.3" x2="32.8" y2="310.3" stroke="#222222" stroke-width="1.1"/>
<line x1="123.7" y1="470.2" x2="123.7" y2="467.59999999999997" stroke="#222222" stroke-width="1.1"/>
<line x1="36.4" y1="330.3" x2="33.8" y2="330.3" stroke="#222222" stroke-width="1.1"/>
<line x1="152.8" y1="470.2" x2="152.8" y2="466.59999999999997" stroke="#222222" stroke-width="1.1"/>
<line x1="36.4" y1="350.3" x2="32.8" y2="350.3" stroke="#222222" stroke-width="1.1"/>
<line x1="182.0" y1="470.2" x2="182.0" y2="467.59999999999997" stroke="#222222" stroke-width="1.1"/>
<line x1="36.4" y1="370.2" x2="33.8" y2="370.2" stroke="#222222" stroke-width="1.1"/>
<line x1="211.1" y1="470.2" x2="211.1" y2="466.59999999999997" stroke="#222222" stroke-width="1.1"/>
<line x1="36.4" y1="390.2" x2="32.8" y2="390.2" stroke="#222222" stroke-width="1.1"/>
<line x1="240.2" y1="470.2" x2="240.2" y2="467.59999999999997" stroke="#222222" stroke-width="1.1"/>
<line x1="36.4" y1="410.2" x2="33.8" y2="410.2" stroke="#222222" stroke-width="1.1"/>
<line x1="269.3" y1="470.2" x2="269.3" y2="466.59999999999997" stroke="#222222" stroke-width="1.1"/>
<line x1="36.4" y1="430.2" x2="32.8" y2="430.2" stroke="#222222" stroke-width="1.1"/>
<line x1="298.4" y1="470.2" x2="298.4" y2="467.59999999999997" stroke="#222222" stroke-width="1.1"/>
<line x1="36.4" y1="450.2" x2="33.8" y2="450.2" stroke="#222222" stroke-width="1.1"/>
<line x1="327.5" y1="470.2" x2="327.5" y2="466.59999999999997" stroke="#222222" stroke-width="1.1"/>
<line x1="36.4" y1="470.2" x2="32.8" y2="470.2" stroke="#222222" stroke-width="1.1"/>
<text x="36.4" y="483.2" font-size="9.6" text-anchor="middle" fill="#111" stroke="#111" stroke-width="0.22">-2</text>
<text x="29.9" y="273.2" font-size="9.6" text-anchor="end" fill="#111" stroke="#111" stroke-width="0.22">0</text>
<text x="94.6" y="483.2" font-size="9.6" text-anchor="middle" fill="#111" stroke="#111" stroke-width="0.22">-1</text>
<text x="29.9" y="313.2" font-size="9.6" text-anchor="end" fill="#111" stroke="#111" stroke-width="0.22">-1</text>
<text x="152.8" y="483.2" font-size="9.6" text-anchor="middle" fill="#111" stroke="#111" stroke-width="0.22">0</text>
<text x="29.9" y="353.2" font-size="9.6" text-anchor="end" fill="#111" stroke="#111" stroke-width="0.22">-2</text>
<text x="211.1" y="483.2" font-size="9.6" text-anchor="middle" fill="#111" stroke="#111" stroke-width="0.22">1</text>
<text x="29.9" y="393.1" font-size="9.6" text-anchor="end" fill="#111" stroke="#111" stroke-width="0.22">-3</text>
<text x="269.3" y="483.2" font-size="9.6" text-anchor="middle" fill="#111" stroke="#111" stroke-width="0.22">2</text>
<text x="29.9" y="433.1" font-size="9.6" text-anchor="end" fill="#111" stroke="#111" stroke-width="0.22">-4</text>
<text x="327.5" y="483.2" font-size="9.6" text-anchor="middle" fill="#111" stroke="#111" stroke-width="0.22">3</text>
<text x="29.9" y="473.1" font-size="9.6" text-anchor="end" fill="#111" stroke="#111" stroke-width="0.22">-5</text>
<text x="184.9" y="499.5" font-size="11.2" text-anchor="middle" fill="#111" stroke="#111" stroke-width="0.22">lg(P) (MPa)</text>
<text transform="translate(8.9,370.2) rotate(-90)" x="0" y="0" font-size="11.3" text-anchor="middle" fill="#111" stroke="#111" stroke-width="0.22">lg(dV/dP) (mL/MPa)</text>
<text x="40.5" y="284.4" font-size="14" font-weight="bold" fill="#111" stroke="#111" stroke-width="0.22">(c)</text>
<line x1="390.6" y1="290.2" x2="679.3" y2="290.2" stroke="#d2d2d2" stroke-width="0.8" stroke-dasharray="1.5,1.1"/>
<line x1="390.6" y1="310.2" x2="679.3" y2="310.2" stroke="#d2d2d2" stroke-width="0.8" stroke-dasharray="1.5,1.1"/>
<line x1="390.6" y1="330.1" x2="679.3" y2="330.1" stroke="#d2d2d2" stroke-width="0.8" stroke-dasharray="1.5,1.1"/>
<line x1="390.6" y1="350.1" x2="679.3" y2="350.1" stroke="#d2d2d2" stroke-width="0.8" stroke-dasharray="1.5,1.1"/>
<line x1="390.6" y1="370.1" x2="679.3" y2="370.1" stroke="#d2d2d2" stroke-width="0.8" stroke-dasharray="1.5,1.1"/>
<line x1="390.6" y1="390.0" x2="679.3" y2="390.0" stroke="#d2d2d2" stroke-width="0.8" stroke-dasharray="1.5,1.1"/>
<line x1="390.6" y1="410.0" x2="679.3" y2="410.0" stroke="#d2d2d2" stroke-width="0.8" stroke-dasharray="1.5,1.1"/>
<line x1="390.6" y1="429.9" x2="679.3" y2="429.9" stroke="#d2d2d2" stroke-width="0.8" stroke-dasharray="1.5,1.1"/>
<line x1="390.6" y1="449.9" x2="679.3" y2="449.9" stroke="#d2d2d2" stroke-width="0.8" stroke-dasharray="1.5,1.1"/>
<line x1="426.1" y1="297.9" x2="506.9" y2="385.1" stroke="#8a8a8a" stroke-width="0.8"/>
<line x1="426.1" y1="292.3" x2="506.9" y2="386.7" stroke="#5cc88a" stroke-width="0.8" stroke-dasharray="2,1.5"/>
<line x1="512.0" y1="383.3" x2="567.4" y2="422.6" stroke="#f47070" stroke-width="0.8"/>
<line x1="512.0" y1="386.0" x2="567.4" y2="423.7" stroke="#c4a0f0" stroke-width="0.8" stroke-dasharray="2,1.5"/>
<line x1="572.4" y1="429.3" x2="643.5" y2="443.6" stroke="#a8c8f0" stroke-width="0.8"/>
<line x1="572.4" y1="425.1" x2="643.5" y2="445.5" stroke="#e8c060" stroke-width="0.8" stroke-dasharray="2,1.5"/>
<rect x="423.9" y="282.9" width="4.4" height="4.4" fill="#2a2a2a"/>
<rect x="429.0" y="299.9" width="4.4" height="4.4" fill="#2a2a2a"/>
<rect x="434.2" y="306.4" width="4.4" height="4.4" fill="#2a2a2a"/>
<rect x="439.0" y="309.9" width="4.4" height="4.4" fill="#2a2a2a"/>
<rect x="444.1" y="318.0" width="4.4" height="4.4" fill="#2a2a2a"/>
<rect x="449.3" y="326.6" width="4.4" height="4.4" fill="#2a2a2a"/>
<rect x="454.3" y="332.2" width="4.4" height="4.4" fill="#2a2a2a"/>
<rect x="459.5" y="339.8" width="4.4" height="4.4" fill="#2a2a2a"/>
<rect x="464.5" y="342.4" width="4.4" height="4.4" fill="#2a2a2a"/>
<rect x="469.5" y="345.8" width="4.4" height="4.4" fill="#2a2a2a"/>
<rect x="474.6" y="355.7" width="4.4" height="4.4" fill="#2a2a2a"/>
<rect x="479.7" y="356.1" width="4.4" height="4.4" fill="#2a2a2a"/>
<rect x="484.7" y="361.8" width="4.4" height="4.4" fill="#2a2a2a"/>
<rect x="489.7" y="364.8" width="4.4" height="4.4" fill="#2a2a2a"/>
<rect x="494.5" y="368.9" width="4.4" height="4.4" fill="#2a2a2a"/>
<rect x="499.7" y="373.8" width="4.4" height="4.4" fill="#2a2a2a"/>
<rect x="504.7" y="376.8" width="4.4" height="4.4" fill="#2a2a2a"/>
<circle cx="512.0" cy="382.6" r="2.50" fill="#f01a22"/>
<circle cx="517.1" cy="385.6" r="2.50" fill="#f01a22"/>
<circle cx="522.1" cy="390.4" r="2.50" fill="#f01a22"/>
<circle cx="527.1" cy="393.9" r="2.50" fill="#f01a22"/>
<circle cx="532.3" cy="398.1" r="2.50" fill="#f01a22"/>
<circle cx="537.4" cy="400.5" r="2.50" fill="#f01a22"/>
<circle cx="542.3" cy="404.0" r="2.50" fill="#f01a22"/>
<circle cx="547.4" cy="407.0" r="2.50" fill="#f01a22"/>
<circle cx="552.3" cy="413.0" r="2.50" fill="#f01a22"/>
<circle cx="557.4" cy="414.7" r="2.50" fill="#f01a22"/>
<circle cx="562.6" cy="418.6" r="2.50" fill="#f01a22"/>
<circle cx="567.4" cy="423.2" r="2.50" fill="#f01a22"/>
<path d="M572.4,421.3L575.2,425.8L569.6,425.8Z" fill="#1a5fd6"/>
<path d="M577.1,426.7L579.9,431.2L574.3,431.2Z" fill="#1a5fd6"/>
<path d="M582.3,429.7L585.1,434.2L579.5,434.2Z" fill="#1a5fd6"/>
<path d="M587.0,432.0L589.8,436.5L584.2,436.5Z" fill="#1a5fd6"/>
<path d="M592.4,432.6L595.2,437.1L589.6,437.1Z" fill="#1a5fd6"/>
<path d="M597.4,434.4L600.2,438.9L594.6,438.9Z" fill="#1a5fd6"/>
<path d="M602.7,434.4L605.5,438.9L599.9,438.9Z" fill="#1a5fd6"/>
<path d="M607.8,434.4L610.6,438.9L605.0,438.9Z" fill="#1a5fd6"/>
<path d="M612.5,436.7L615.3,441.2L609.7,441.2Z" fill="#1a5fd6"/>
<path d="M617.6,435.3L620.4,439.8L614.8,439.8Z" fill="#1a5fd6"/>
<path d="M622.9,437.9L625.7,442.4L620.1,442.4Z" fill="#1a5fd6"/>
<path d="M628.0,435.7L630.8,440.2L625.2,440.2Z" fill="#1a5fd6"/>
<path d="M633.1,437.3L635.9,441.8L630.3,441.8Z" fill="#1a5fd6"/>
<path d="M638.3,438.5L641.1,443.0L635.5,443.0Z" fill="#1a5fd6"/>
<path d="M643.5,439.1L646.3,443.6L640.7,443.6Z" fill="#1a5fd6"/>
<path d="M426.1,286.0L428.8,281.0L423.4,281.0Z" fill="#17a04e"/>
<path d="M431.2,301.1L433.9,296.1L428.5,296.1Z" fill="#17a04e"/>
<path d="M436.4,305.9L439.1,300.9L433.7,300.9Z" fill="#17a04e"/>
<path d="M441.2,309.8L443.9,304.8L438.5,304.8Z" fill="#17a04e"/>
<path d="M446.3,318.4L449.0,313.4L443.6,313.4Z" fill="#17a04e"/>
<path d="M451.6,326.3L454.3,321.3L448.9,321.3Z" fill="#17a04e"/>
<path d="M456.5,333.0L459.2,328.0L453.8,328.0Z" fill="#17a04e"/>
<path d="M461.7,340.5L464.4,335.5L459.0,335.5Z" fill="#17a04e"/>
<path d="M466.7,347.3L469.4,342.3L464.0,342.3Z" fill="#17a04e"/>
<path d="M471.7,351.5L474.4,346.5L469.0,346.5Z" fill="#17a04e"/>
<path d="M476.8,358.6L479.5,353.6L474.1,353.6Z" fill="#17a04e"/>
<path d="M481.9,364.0L484.6,359.0L479.2,359.0Z" fill="#17a04e"/>
<path d="M486.9,366.4L489.6,361.4L484.2,361.4Z" fill="#17a04e"/>
<path d="M491.9,369.2L494.6,364.2L489.2,364.2Z" fill="#17a04e"/>
<path d="M496.5,377.4L499.2,372.4L493.8,372.4Z" fill="#17a04e"/>
<path d="M501.9,379.0L504.6,374.0L499.2,374.0Z" fill="#17a04e"/>
<path d="M506.9,382.5L509.6,377.5L504.2,377.5Z" fill="#17a04e"/>
<path d="M512.0,382.2L514.8,385.0L512.0,387.8L509.2,385.0Z" fill="#9d66e6"/>
<path d="M517.1,386.4L519.9,389.2L517.1,391.9L514.4,389.2Z" fill="#9d66e6"/>
<path d="M522.1,388.4L524.9,391.2L522.1,393.9L519.4,391.2Z" fill="#9d66e6"/>
<path d="M527.1,395.1L529.9,397.9L527.1,400.6L524.4,397.9Z" fill="#9d66e6"/>
<path d="M532.3,398.4L535.0,401.1L532.3,403.9L529.5,401.1Z" fill="#9d66e6"/>
<path d="M537.4,399.9L540.1,402.6L537.4,405.4L534.6,402.6Z" fill="#9d66e6"/>
<path d="M542.3,402.9L545.0,405.6L542.3,408.4L539.5,405.6Z" fill="#9d66e6"/>
<path d="M547.3,408.9L550.0,411.7L547.3,414.4L544.5,411.7Z" fill="#9d66e6"/>
<path d="M552.3,410.4L555.0,413.2L552.3,415.9L549.5,413.2Z" fill="#9d66e6"/>
<path d="M557.4,414.1L560.1,416.8L557.4,419.6L554.6,416.8Z" fill="#9d66e6"/>
<path d="M562.4,417.6L565.1,420.4L562.4,423.1L559.6,420.4Z" fill="#9d66e6"/>
<path d="M567.4,420.6L570.1,423.3L567.4,426.1L564.6,423.3Z" fill="#9d66e6"/>
<path d="M569.5,426.3L574.4,423.6L574.4,429.1Z" fill="#d2960f"/>
<path d="M575.0,426.3L579.9,423.6L579.9,429.1Z" fill="#d2960f"/>
<path d="M579.7,429.0L584.6,426.2L584.6,431.8Z" fill="#d2960f"/>
<path d="M584.7,431.7L589.6,428.9L589.6,434.4Z" fill="#d2960f"/>
<path d="M590.1,433.1L595.0,430.4L595.0,435.9Z" fill="#d2960f"/>
<path d="M595.4,432.3L600.3,429.6L600.3,435.1Z" fill="#d2960f"/>
<path d="M600.1,432.0L605.0,429.2L605.0,434.8Z" fill="#d2960f"/>
<path d="M605.0,431.6L609.9,428.9L609.9,434.4Z" fill="#d2960f"/>
<path d="M610.0,432.4L614.9,429.6L614.9,435.1Z" fill="#d2960f"/>
<path d="M615.0,433.3L619.9,430.6L619.9,436.1Z" fill="#d2960f"/>
<path d="M620.3,435.7L625.2,432.9L625.2,438.4Z" fill="#d2960f"/>
<path d="M625.4,438.7L630.3,435.9L630.3,441.4Z" fill="#d2960f"/>
<path d="M630.4,444.0L635.3,441.2L635.3,446.8Z" fill="#d2960f"/>
<path d="M635.2,447.6L640.1,444.9L640.1,450.4Z" fill="#d2960f"/>
<path d="M640.2,451.2L645.1,448.4L645.1,453.9Z" fill="#d2960f"/>
<text x="472.9" y="327.7" fill="#2a9a58" stroke="#2a9a58" stroke-width="0.22" font-size="9.6"><tspan font-style="italic">y</tspan>=<tspan dx="-0.5">-1.703</tspan><tspan font-style="italic">x</tspan>-2.888</text><text x="473.7" y="340.7" fill="#2a9a58" stroke="#2a9a58" stroke-width="0.22" font-size="9.6"><tspan font-style="italic">R</tspan><tspan font-size="6" dy="-3.6">2</tspan><tspan dy="3.6">=0.99</tspan></text>
<text x="398.2" y="348.2" fill="#333333" stroke="#333333" stroke-width="0.22" font-size="9.6"><tspan font-style="italic">y</tspan>=<tspan dx="-0.5">-1.573</tspan><tspan font-style="italic">x</tspan>-2.85</text><text x="399.0" y="361.2" fill="#333333" stroke="#333333" stroke-width="0.22" font-size="9.6"><tspan font-style="italic">R</tspan><tspan font-size="6" dy="-3.6">2</tspan><tspan dy="3.6">=0.97</tspan></text>
<text x="546.6" y="386.79999999999995" fill="#ee1c25" stroke="#ee1c25" stroke-width="0.22" font-size="9.6" font-weight="bold"><tspan font-style="italic">y</tspan>=<tspan dx="-0.5">-1.036</tspan><tspan font-style="italic">x</tspan>-2.722</text><text x="547.4" y="399.8" fill="#ee1c25" stroke="#ee1c25" stroke-width="0.22" font-size="9.6" font-weight="bold"><tspan font-style="italic">R</tspan><tspan font-size="6" dy="-3.6">2</tspan><tspan dy="3.6">=0.99</tspan></text>
<text x="465.5" y="409.0" fill="#9a62d6" stroke="#9a62d6" stroke-width="0.22" font-size="9.6"><tspan font-style="italic">y</tspan>=<tspan dx="-0.5">-0.993</tspan><tspan font-style="italic">x</tspan>-2.794</text><text x="466.3" y="422.0" fill="#9a62d6" stroke="#9a62d6" stroke-width="0.22" font-size="9.6"><tspan font-style="italic">R</tspan><tspan font-size="6" dy="-3.6">2</tspan><tspan dy="3.6">=0.99</tspan></text>
<text x="616.7" y="418.4" fill="#c8961e" stroke="#c8961e" stroke-width="0.22" font-size="9.6"><tspan font-style="italic">y</tspan>=<tspan dx="-0.5">-0.418</tspan><tspan font-style="italic">x</tspan>-3.401</text><text x="617.5" y="431.4" fill="#c8961e" stroke="#c8961e" stroke-width="0.22" font-size="9.6"><tspan font-style="italic">R</tspan><tspan font-size="6" dy="-3.6">2</tspan><tspan dy="3.6">=0.82</tspan></text>
<text x="540.1" y="447.59999999999997" fill="#2a70cc" stroke="#2a70cc" stroke-width="0.22" font-size="9.6"><tspan font-style="italic">y</tspan>=<tspan dx="-0.5">-0.294</tspan><tspan font-style="italic">x</tspan>-3.648</text><text x="540.9" y="460.6" fill="#2a70cc" stroke="#2a70cc" stroke-width="0.22" font-size="9.6"><tspan font-style="italic">R</tspan><tspan font-size="6" dy="-3.6">2</tspan><tspan dy="3.6">=0.83</tspan></text>
<rect x="550.6" y="274.5" width="125.3" height="71.4" fill="#fff" stroke="#b0b0b0" stroke-width="0.8"/>
<rect x="560.8" y="278.8" width="4.2" height="4.2" fill="#2a2a2a"/>
<text x="576.0" y="284.1" font-size="9.4" fill="#1a1a1a" stroke="#1a1a1a" stroke-width="0.22">BL (<tspan font-size="12" dx="1.2">&gt;</tspan><tspan dx="1.3">1000 nm)</tspan></text>
<circle cx="562.9" cy="292.5" r="2.38" fill="#f01a22"/>
<text x="576.0" y="295.7" font-size="9.4" fill="#1a1a1a" stroke="#1a1a1a" stroke-width="0.22">BL (100-1000 nm)</text>
<path d="M562.9,301.7L565.6,306.0L560.2,306.0Z" fill="#1a5fd6"/>
<text x="576.0" y="307.4" font-size="9.4" fill="#1a1a1a" stroke="#1a1a1a" stroke-width="0.22">BL (<tspan font-size="12" dx="1.2">&lt;</tspan><tspan dx="1.3">100 nm)</tspan></text>
<path d="M562.9,318.6L565.5,313.9L560.3,313.9Z" fill="#17a04e"/>
<text x="576.0" y="319.0" font-size="9.4" fill="#1a1a1a" stroke="#1a1a1a" stroke-width="0.22">BL treated (<tspan font-size="12" dx="1.2">&gt;</tspan><tspan dx="1.3">1000 nm)</tspan></text>
<path d="M562.9,324.9L565.5,327.5L562.9,330.1L560.3,327.5Z" fill="#9d66e6"/>
<text x="576.0" y="330.7" font-size="9.4" fill="#1a1a1a" stroke="#1a1a1a" stroke-width="0.22">BL treated (100-1000 nm)</text>
<path d="M560.1,339.1L564.8,336.5L564.8,341.8Z" fill="#d2960f"/>
<text x="576.0" y="342.3" font-size="9.4" fill="#1a1a1a" stroke="#1a1a1a" stroke-width="0.22">BL treated (<tspan font-size="12" dx="1.2">&lt;</tspan><tspan dx="1.3">100 nm)</tspan></text>
<rect x="389.6" y="270.3" width="290.7" height="199.5" fill="none" stroke="#222222" stroke-width="1.4"/>
<line x1="389.6" y1="469.8" x2="389.6" y2="466.2" stroke="#222222" stroke-width="1.1"/>
<line x1="389.6" y1="270.3" x2="386.0" y2="270.3" stroke="#222222" stroke-width="1.1"/>
<line x1="418.7" y1="469.8" x2="418.7" y2="467.2" stroke="#222222" stroke-width="1.1"/>
<line x1="389.6" y1="290.2" x2="387.0" y2="290.2" stroke="#222222" stroke-width="1.1"/>
<line x1="447.7" y1="469.8" x2="447.7" y2="466.2" stroke="#222222" stroke-width="1.1"/>
<line x1="389.6" y1="310.2" x2="386.0" y2="310.2" stroke="#222222" stroke-width="1.1"/>
<line x1="476.8" y1="469.8" x2="476.8" y2="467.2" stroke="#222222" stroke-width="1.1"/>
<line x1="389.6" y1="330.1" x2="387.0" y2="330.1" stroke="#222222" stroke-width="1.1"/>
<line x1="505.9" y1="469.8" x2="505.9" y2="466.2" stroke="#222222" stroke-width="1.1"/>
<line x1="389.6" y1="350.1" x2="386.0" y2="350.1" stroke="#222222" stroke-width="1.1"/>
<line x1="535.0" y1="469.8" x2="535.0" y2="467.2" stroke="#222222" stroke-width="1.1"/>
<line x1="389.6" y1="370.1" x2="387.0" y2="370.1" stroke="#222222" stroke-width="1.1"/>
<line x1="564.0" y1="469.8" x2="564.0" y2="466.2" stroke="#222222" stroke-width="1.1"/>
<line x1="389.6" y1="390.0" x2="386.0" y2="390.0" stroke="#222222" stroke-width="1.1"/>
<line x1="593.1" y1="469.8" x2="593.1" y2="467.2" stroke="#222222" stroke-width="1.1"/>
<line x1="389.6" y1="410.0" x2="387.0" y2="410.0" stroke="#222222" stroke-width="1.1"/>
<line x1="622.2" y1="469.8" x2="622.2" y2="466.2" stroke="#222222" stroke-width="1.1"/>
<line x1="389.6" y1="429.9" x2="386.0" y2="429.9" stroke="#222222" stroke-width="1.1"/>
<line x1="651.2" y1="469.8" x2="651.2" y2="467.2" stroke="#222222" stroke-width="1.1"/>
<line x1="389.6" y1="449.9" x2="387.0" y2="449.9" stroke="#222222" stroke-width="1.1"/>
<line x1="680.3" y1="469.8" x2="680.3" y2="466.2" stroke="#222222" stroke-width="1.1"/>
<line x1="389.6" y1="469.8" x2="386.0" y2="469.8" stroke="#222222" stroke-width="1.1"/>
<text x="389.6" y="482.8" font-size="9.6" text-anchor="middle" fill="#111" stroke="#111" stroke-width="0.22">-2</text>
<text x="383.1" y="273.2" font-size="9.6" text-anchor="end" fill="#111" stroke="#111" stroke-width="0.22">0</text>
<text x="447.7" y="482.8" font-size="9.6" text-anchor="middle" fill="#111" stroke="#111" stroke-width="0.22">-1</text>
<text x="383.1" y="313.1" font-size="9.6" text-anchor="end" fill="#111" stroke="#111" stroke-width="0.22">-1</text>
<text x="505.9" y="482.8" font-size="9.6" text-anchor="middle" fill="#111" stroke="#111" stroke-width="0.22">0</text>
<text x="383.1" y="353.0" font-size="9.6" text-anchor="end" fill="#111" stroke="#111" stroke-width="0.22">-2</text>
<text x="564.0" y="482.8" font-size="9.6" text-anchor="middle" fill="#111" stroke="#111" stroke-width="0.22">1</text>
<text x="383.1" y="392.9" font-size="9.6" text-anchor="end" fill="#111" stroke="#111" stroke-width="0.22">-3</text>
<text x="622.2" y="482.8" font-size="9.6" text-anchor="middle" fill="#111" stroke="#111" stroke-width="0.22">2</text>
<text x="383.1" y="432.8" font-size="9.6" text-anchor="end" fill="#111" stroke="#111" stroke-width="0.22">-4</text>
<text x="680.3" y="482.8" font-size="9.6" text-anchor="middle" fill="#111" stroke="#111" stroke-width="0.22">3</text>
<text x="383.1" y="472.7" font-size="9.6" text-anchor="end" fill="#111" stroke="#111" stroke-width="0.22">-5</text>
<text x="538.0" y="499.1" font-size="11.2" text-anchor="middle" fill="#111" stroke="#111" stroke-width="0.22">lg(P) (MPa)</text>
<text transform="translate(362.1,370.1) rotate(-90)" x="0" y="0" font-size="11.3" text-anchor="middle" fill="#111" stroke="#111" stroke-width="0.22">lg(dV/dP) (mL/MPa)</text>
<text x="395.5" y="284.4" font-size="14" font-weight="bold" fill="#111" stroke="#111" stroke-width="0.22">(d)</text>
</svg>
</body></html>
